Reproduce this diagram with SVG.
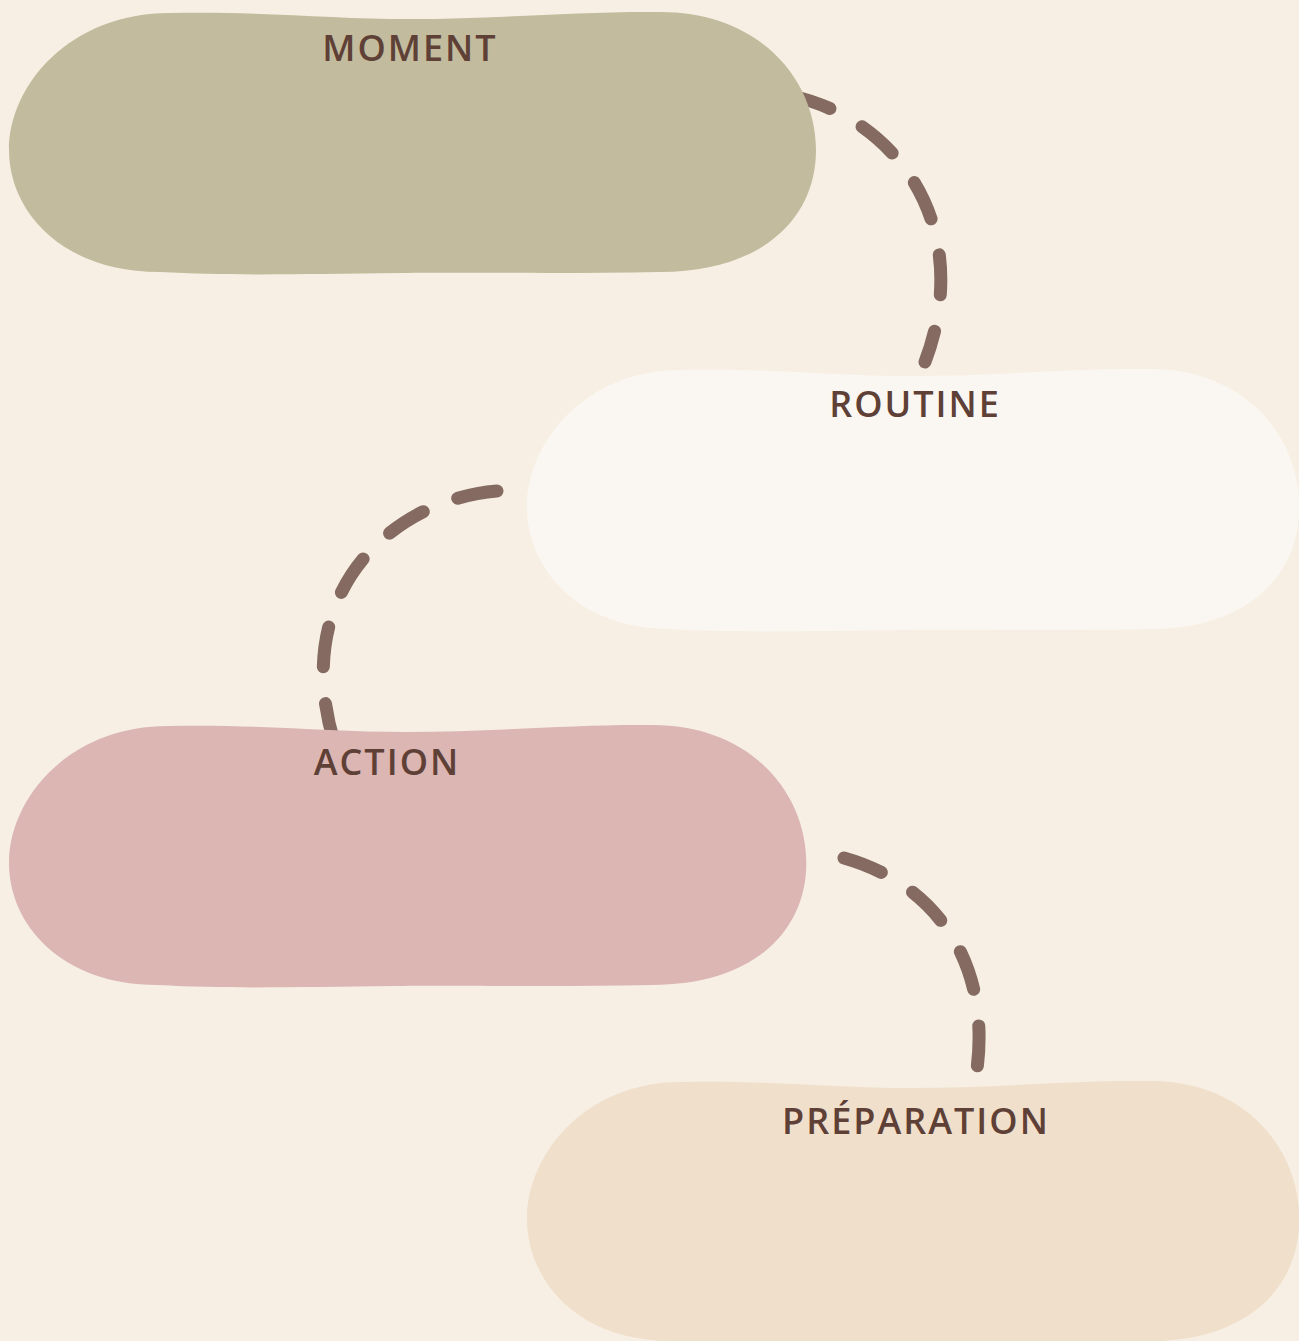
<svg xmlns="http://www.w3.org/2000/svg" xmlns:xlink="http://www.w3.org/1999/xlink" width="1299" height="1341" viewBox="0 0 1299 1341">
<style>
.lbl{font-family:"Open Sans","Noto Sans","Liberation Sans",sans-serif;font-size:36px;font-weight:600;fill:#5E4036;letter-spacing:2px;text-anchor:middle}
.conn{fill:none;stroke:#846A60;stroke-width:13;stroke-linecap:round;stroke-dasharray:40 37}
</style>
<defs>
<path id="blob" d="M 170,13 C 260,11 330,19 410,19 C 500,19 580,11 660,12 C 760,12 816,80 816,150 C 816,220 760,272 660,272 C 560,274 450,272 400,273 C 300,274 230,276 160,272 C 60,272 9,210 9,150 C 9,85 70,13 170,13 Z"/>
</defs>
<rect width="1299" height="1341" fill="#F7EFE3"/>
<g id="connectors">
<path class="conn" d="M 792,96 C 900,120 975,230 925,362"/>
<path class="conn" d="M 497,491 C 390,500 288,595 335,745"/>
<path class="conn" d="M 844,858 C 940,885 995,970 975,1082"/>
</g>
<g id="moment">
<use xlink:href="#blob" fill="#C3BB9D"/>
<text class="lbl" x="410" y="61">MOMENT</text>
</g>
<g id="routine">
<use xlink:href="#blob" fill="#FAF7F2" transform="translate(527,357) scale(0.957,1) translate(-9,0)"/>
<text class="lbl" x="915" y="417">ROUTINE</text>
</g>
<g id="action">
<use xlink:href="#blob" fill="#DBB6B3" transform="translate(9,713) scale(0.988,1) translate(-9,0)"/>
<text class="lbl" x="387" y="775">ACTION</text>
</g>
<g id="preparation">
<use xlink:href="#blob" fill="#F0DFCB" transform="translate(527,1069) scale(0.957,1) translate(-9,0)"/>
<text class="lbl" x="916" y="1134">PRÉPARATION</text>
</g>
</svg>
